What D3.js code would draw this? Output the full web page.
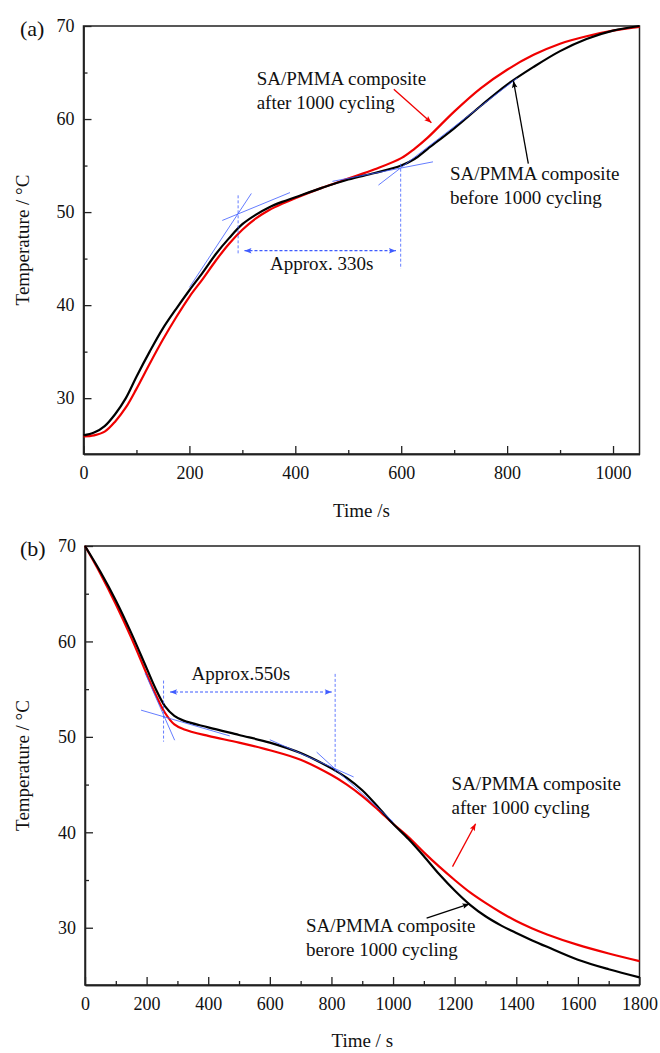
<!DOCTYPE html>
<meta charset="utf-8">
<style>
body { margin: 0; background: #fff; }
.axis path, .axis line { stroke: #222; stroke-width: 1.3px; }
</style>
<svg width="660" height="1053"></svg>
<script src="https://d3js.org/d3.v7.min.js"></script>
<script>

// (a) heating curves, time in s, temperature in degC
var heatTime   = [0, 20, 40, 60, 80, 100, 125, 150, 175, 200, 225, 250, 275, 300, 325, 350, 375, 400, 450, 500, 550, 600, 625, 650, 700, 750, 800, 850, 900, 950, 1000, 1050];
var heatBefore = [26.0, 26.3, 27.0, 28.3, 30.0, 32.3, 35.0, 37.5, 39.6, 41.6, 43.5, 45.5, 47.2, 48.7, 49.7, 50.5, 51.1, 51.6, 52.6, 53.5, 54.2, 55.0, 55.7, 56.8, 59.0, 61.4, 63.7, 65.6, 67.3, 68.6, 69.5, 70.0];
var heatAfter  = [25.9, 26.0, 26.4, 27.5, 29.0, 31.0, 33.7, 36.3, 38.7, 40.9, 42.8, 44.8, 46.6, 48.1, 49.3, 50.2, 50.9, 51.5, 52.6, 53.6, 54.6, 55.8, 56.8, 58.0, 60.8, 63.3, 65.3, 66.9, 68.1, 68.9, 69.5, 69.9];

// (b) cooling curves
var coolTime   = [0, 50, 100, 150, 200, 230, 260, 290, 320, 400, 500, 600, 700, 800, 850, 900, 950, 1000, 1050, 1100, 1150, 1200, 1250, 1300, 1350, 1400, 1450, 1500, 1600, 1700, 1800];
var coolBefore = [70.0, 67.3, 64.3, 60.9, 57.2, 55.0, 53.2, 52.2, 51.7, 51.0, 50.2, 49.4, 48.3, 46.7, 45.7, 44.4, 42.7, 40.9, 39.3, 37.5, 35.6, 33.9, 32.4, 31.2, 30.25, 29.45, 28.7, 28.0, 26.65, 25.65, 24.8];
var coolAfter  = [70.0, 67.1, 63.9, 60.4, 56.6, 54.4, 52.5, 51.3, 50.8, 50.1, 49.4, 48.6, 47.6, 46.0, 45.0, 43.8, 42.4, 40.9, 39.5, 37.9, 36.4, 35.0, 33.7, 32.6, 31.6, 30.7, 29.95, 29.3, 28.2, 27.3, 26.5];

// axis ticks
var tempTicks = [30, 40, 50, 60, 70];
var tempMinor = [35, 45, 55, 65];
var heatTicks = [0, 200, 400, 600, 800, 1000];
var heatMinor = [100, 300, 500, 700, 900];
var coolTicks = [0, 200, 400, 600, 800, 1000, 1200, 1400, 1600, 1800];
var coolMinor = [100, 300, 500, 700, 900, 1100, 1300, 1500, 1700];

// tangent construction lines [t1, T1, t2, T2]
var heatTangents = [[200, 41.9, 317, 52.0], [262, 49.1, 390, 52.1], [470, 53.3, 660, 55.4], [557, 52.9, 819, 64.4]];
var heatGuides   = [[292, 51.8, 292, 45.4], [599, 55.2, 599, 43.9]];
var heatSpan     = [304, 590, 45.85];
var coolTangents = [[195, 56.7, 291, 49.65], [182, 52.8, 470, 50.1], [600, 49.7, 872, 45.8], [752, 48.4, 1000, 41.1]];
var coolGuides   = [[255, 55.9, 255, 49.5], [812, 56.6, 812, 46.1]];
var coolSpan     = [276, 801, 54.7];

// labels and pointer arrows [t, T]
var heatNotes = [
  {text: ["SA/PMMA composite", "after 1000 cycling"], at: [327, 63.7], from: [586, 63.2], to: [657, 59.6], color: "#f00000"},
  {text: ["SA/PMMA composite", "before 1000 cycling"], at: [692, 53.4], from: [840, 55.2], to: [812, 64.1], color: "#000"}
];
var coolNotes = [
  {text: ["SA/PMMA composite", "after 1000 cycling"], at: [1190, 44.4], from: [1193, 36.4], to: [1268, 40.9], color: "#f00000"},
  {text: ["SA/PMMA composite", "berore 1000 cycling"], at: [717, 29.6], from: [1109, 31.0], to: [1248, 32.5], color: "#000"}
];

var svg = d3.select("svg");
var blue = "#3f5cff";
var serif = "'Liberation Serif', 'Times New Roman', serif";

var defs = svg.append("defs");
function marker(id, color, orient) {
  defs.append("marker")
      .attr("id", id)
      .attr("viewBox", "0 -5 10 10")
      .attr("refX", 10).attr("refY", 0)
      .attr("markerWidth", 9).attr("markerHeight", 7)
      .attr("markerUnits", "userSpaceOnUse")
      .attr("orient", orient)
    .append("path")
      .attr("d", "M0,-4L10,0L0,4L2,0Z")
      .attr("fill", color);
}
marker("arrBlue", blue, "auto-start-reverse");
marker("arrRed", "#f00000", "auto");
marker("arrBlack", "#000", "auto");

function label(sel, size) {
  return sel.style("font-family", serif).style("font-size", size + "px").style("fill", "#111");
}

function panel(cfg) {
  var x = d3.scaleLinear().domain(cfg.xDomain).range(cfg.xRange);
  var y = d3.scaleLinear().domain([24, 70]).range(cfg.yRange);
  var g = svg.append("g");

  var xAxis = g.append("g").attr("class", "axis")
      .attr("transform", "translate(0," + cfg.yRange[0] + ")")
      .call(d3.axisBottom(x).tickValues(cfg.xTicks).tickFormat(d3.format("d"))
          .tickSizeInner(-8).tickSizeOuter(0).tickPadding(12));
  label(xAxis.selectAll("text"), 18);
  g.append("g").attr("class", "axis")
      .attr("transform", "translate(0," + cfg.yRange[0] + ")")
      .call(d3.axisBottom(x).tickValues(cfg.xMinor).tickSizeInner(-4).tickSizeOuter(0).tickFormat(""));
  var yAxis = g.append("g").attr("class", "axis")
      .attr("transform", "translate(" + cfg.xRange[0] + ",0)")
      .call(d3.axisLeft(y).tickValues(tempTicks).tickSizeInner(-8).tickSizeOuter(0).tickPadding(9));
  label(yAxis.selectAll("text"), 18);
  g.append("g").attr("class", "axis")
      .attr("transform", "translate(" + cfg.xRange[0] + ",0)")
      .call(d3.axisLeft(y).tickValues(tempMinor).tickSizeInner(-4).tickSizeOuter(0).tickFormat(""));

  g.append("rect")
      .attr("x", cfg.xRange[0]).attr("y", cfg.yRange[1])
      .attr("width", cfg.xRange[1] - cfg.xRange[0])
      .attr("height", cfg.yRange[0] - cfg.yRange[1])
      .attr("fill", "none").attr("stroke", "#222").attr("stroke-width", 1.5);

  var line = d3.line()
      .x(function(d) { return x(d[0]); })
      .y(function(d) { return y(d[1]); })
      .curve(d3.curveCatmullRom.alpha(0.5));

  [[cfg.after, "#f00000"], [cfg.before, "#000"]].forEach(function(s) {
    g.append("path")
        .datum(cfg.time.map(function(t, i) { return [t, s[0][i]]; }))
        .attr("d", line)
        .attr("fill", "none")
        .attr("stroke", s[1])
        .attr("stroke-width", 2.2);
  });

  g.selectAll(".tangent").data(cfg.tangents).enter().append("line")
      .attr("x1", function(d) { return x(d[0]); }).attr("y1", function(d) { return y(d[1]); })
      .attr("x2", function(d) { return x(d[2]); }).attr("y2", function(d) { return y(d[3]); })
      .attr("stroke", blue).attr("stroke-opacity", 0.8).attr("stroke-width", 1);

  g.selectAll(".guide").data(cfg.guides).enter().append("line")
      .attr("x1", function(d) { return x(d[0]); }).attr("y1", function(d) { return y(d[1]); })
      .attr("x2", function(d) { return x(d[2]); }).attr("y2", function(d) { return y(d[3]); })
      .attr("stroke", blue).attr("stroke-opacity", 0.8).attr("stroke-width", 1)
      .attr("stroke-dasharray", "3,2");

  g.append("line")
      .attr("x1", x(cfg.span[0])).attr("x2", x(cfg.span[1]))
      .attr("y1", y(cfg.span[2])).attr("y2", y(cfg.span[2]))
      .attr("stroke", blue).attr("stroke-width", 1.2)
      .attr("stroke-dasharray", "3,2")
      .attr("marker-start", "url(#arrBlue)")
      .attr("marker-end", "url(#arrBlue)");

  label(g.append("text"), 19)
      .attr("x", x(cfg.spanLabel[0])).attr("y", y(cfg.spanLabel[1]))
      .attr("text-anchor", "middle")
      .text(cfg.spanLabel[2]);

  cfg.notes.forEach(function(n) {
    var t = label(g.append("text"), 19);
    n.text.forEach(function(s, i) {
      t.append("tspan")
          .attr("x", x(n.at[0]))
          .attr("y", y(n.at[1]) + i * 24)
          .text(s);
    });
    g.append("line")
        .attr("x1", x(n.from[0])).attr("y1", y(n.from[1]))
        .attr("x2", x(n.to[0])).attr("y2", y(n.to[1]))
        .attr("stroke", n.color).attr("stroke-width", 1.3)
        .attr("marker-end", n.color === "#000" ? "url(#arrBlack)" : "url(#arrRed)");
  });

  var xMid = (cfg.xRange[0] + cfg.xRange[1]) / 2;
  label(g.append("text"), 19)
      .attr("x", xMid).attr("y", cfg.xTitleY)
      .attr("text-anchor", "middle")
      .text(cfg.xTitle);
  label(g.append("text"), 19)
      .attr("transform", "translate(29," + (cfg.yRange[0] + cfg.yRange[1]) / 2 + ") rotate(-90)")
      .attr("text-anchor", "middle")
      .text("Temperature / \u00b0C");
  label(g.append("text"), 22)
      .attr("x", 20).attr("y", cfg.yRange[1] + 10)
      .text(cfg.tag);
}

panel({
  tag: "(a)", xTitle: "Time /s", xTitleY: 517,
  xDomain: [0, 1050], xRange: [83.5, 639.5], yRange: [454, 26],
  xTicks: heatTicks, xMinor: heatMinor,
  time: heatTime, before: heatBefore, after: heatAfter,
  tangents: heatTangents, guides: heatGuides, span: heatSpan,
  spanLabel: [450, 43.8, "Approx. 330s"], notes: heatNotes
});

panel({
  tag: "(b)", xTitle: "Time / s", xTitleY: 1047,
  xDomain: [0, 1800], xRange: [85, 639.5], yRange: [985, 546],
  xTicks: coolTicks, xMinor: coolMinor,
  time: coolTime, before: coolBefore, after: coolAfter,
  tangents: coolTangents, guides: coolGuides, span: coolSpan,
  spanLabel: [506, 56.0, "Approx.550s"], notes: coolNotes
});

</script>
